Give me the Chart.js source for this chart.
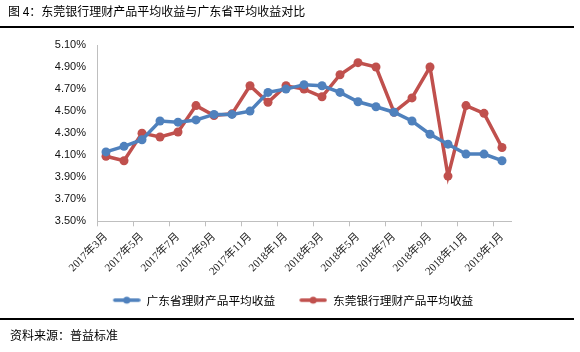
<!DOCTYPE html>
<html><head><meta charset="utf-8">
<script src="https://cdn.jsdelivr.net/npm/chart.js@4/dist/chart.umd.min.js"></script>
<style>
html,body{margin:0;padding:0;background:#fff;}
#wrap{position:relative;width:580px;height:352px;overflow:hidden;}
#c{position:absolute;left:0;top:0;}
.txt{position:absolute;font-family:"Noto Sans CJK SC",sans-serif;font-size:12px;color:#000;white-space:nowrap;line-height:14px;}
.rule{position:absolute;left:0;width:574px;height:2px;background:#000;}
</style></head><body>
<div id="wrap">
<canvas id="c" width="580" height="352"></canvas>
<div class="txt" style="left:8px;top:4px;">图 4：东莞银行理财产品平均收益与广东省平均收益对比</div>
<div class="rule" style="top:26px;"></div>
<div class="rule" style="top:318px;"></div>
<div class="txt" style="left:10px;top:328px;">资料来源：普益标准</div>
</div>
<script>
const categories = ["2017年3月","2017年4月","2017年5月","2017年6月","2017年7月","2017年8月","2017年9月","2017年10月","2017年11月","2017年12月","2018年1月","2018年2月","2018年3月","2018年4月","2018年5月","2018年6月","2018年7月","2018年8月","2018年9月","2018年10月","2018年11月","2018年12月","2019年1月"];
const guangdongAvg = [4.13,4.18,4.24,4.41,4.40,4.42,4.47,4.47,4.50,4.67,4.70,4.74,4.73,4.67,4.585,4.54,4.49,4.41,4.29,4.20,4.11,4.11,4.05];
const dongguanBank = [4.09,4.05,4.30,4.265,4.31,4.55,4.46,4.475,4.73,4.58,4.73,4.70,4.63,4.83,4.94,4.90,4.49,4.62,4.90,3.91,4.55,4.48,4.17];
const seriesNames = ["广东省理财产品平均收益","东莞银行理财产品平均收益"];
const yTicks = {min:3.5,max:5.1,step:0.2};

const BLUE="#4f81bd", RED="#c0504d";
const ICON_W=34;
function legendIcon(color){
  const cv=document.createElement('canvas');cv.width=ICON_W;cv.height=10;
  const g=cv.getContext('2d');
  const x0=ICON_W-28;
  g.strokeStyle=color;g.lineWidth=3.5;g.lineCap='round';
  g.beginPath();g.moveTo(x0+2,5);g.lineTo(x0+26,5);g.stroke();
  g.fillStyle=color;g.beginPath();g.arc(x0+14,5,3.5,0,Math.PI*2);g.fill();
  return cv;
}
const icons=[legendIcon(BLUE),legendIcon(RED)];

new Chart(document.getElementById('c'),{
  type:'line',
  data:{labels:categories,datasets:[
    {label:seriesNames[0],data:guangdongAvg,borderColor:BLUE,backgroundColor:BLUE,borderWidth:3.5,pointRadius:4.5,pointBackgroundColor:BLUE,pointBorderWidth:0,tension:0,pointStyle:'circle'},
    {label:seriesNames[1],data:dongguanBank,borderColor:RED,backgroundColor:RED,borderWidth:3.5,pointRadius:4.5,pointBackgroundColor:RED,pointBorderWidth:0,tension:0,pointStyle:'circle'}
  ]},
  options:{
    responsive:false,animation:false,
    layout:{padding:{top:45,right:0,left:0,bottom:36}},
    plugins:{
      tooltip:{enabled:false},
      legend:{position:'bottom',
        labels:{usePointStyle:true,pointStyleWidth:ICON_W,padding:18,color:'#000',
          font:{family:'"Noto Sans CJK SC",sans-serif',size:11.7},
          generateLabels:(chart)=>chart.data.datasets.map((d,i)=>({text:d.label,pointStyle:icons[i],fillStyle:d.borderColor,strokeStyle:d.borderColor,lineWidth:0,datasetIndex:i,fontColor:'#000'}))
        }}
    },
    scales:{
      x:{offset:true,
        grid:{display:true,drawOnChartArea:false,drawTicks:true,tickLength:5,offset:true,
          tickColor:(ctx)=>ctx.index%2===0?'#bfbfbf':'rgba(0,0,0,0)',color:'rgba(0,0,0,0)'},
        border:{color:'#bfbfbf',width:1},
        ticks:{autoSkip:false,maxRotation:45,minRotation:45,padding:4,color:'#222',
          font:{family:'"Liberation Serif","Noto Sans CJK SC",serif',size:11},
          callback:(v,i)=>i%2===0?categories[i]:''},
        afterFit:(s)=>{s.height=55;}
      },
      y:{min:yTicks.min,max:yTicks.max,
        grid:{display:false,drawTicks:false},
        border:{color:'#bfbfbf',width:1},
        ticks:{stepSize:yTicks.step,padding:11,color:'#111',
          font:{family:'"Liberation Sans","DejaVu Sans",sans-serif',size:11},
          callback:(v)=>v.toFixed(2)+'%'},
        afterFit:(s)=>{s.width=97;}
      },
      y2:{position:'right',display:true,grid:{display:false,drawTicks:false},border:{display:false},ticks:{display:false},
        afterFit:(s)=>{s.width=69;}}
    }
  }
});
</script>
</body></html>
